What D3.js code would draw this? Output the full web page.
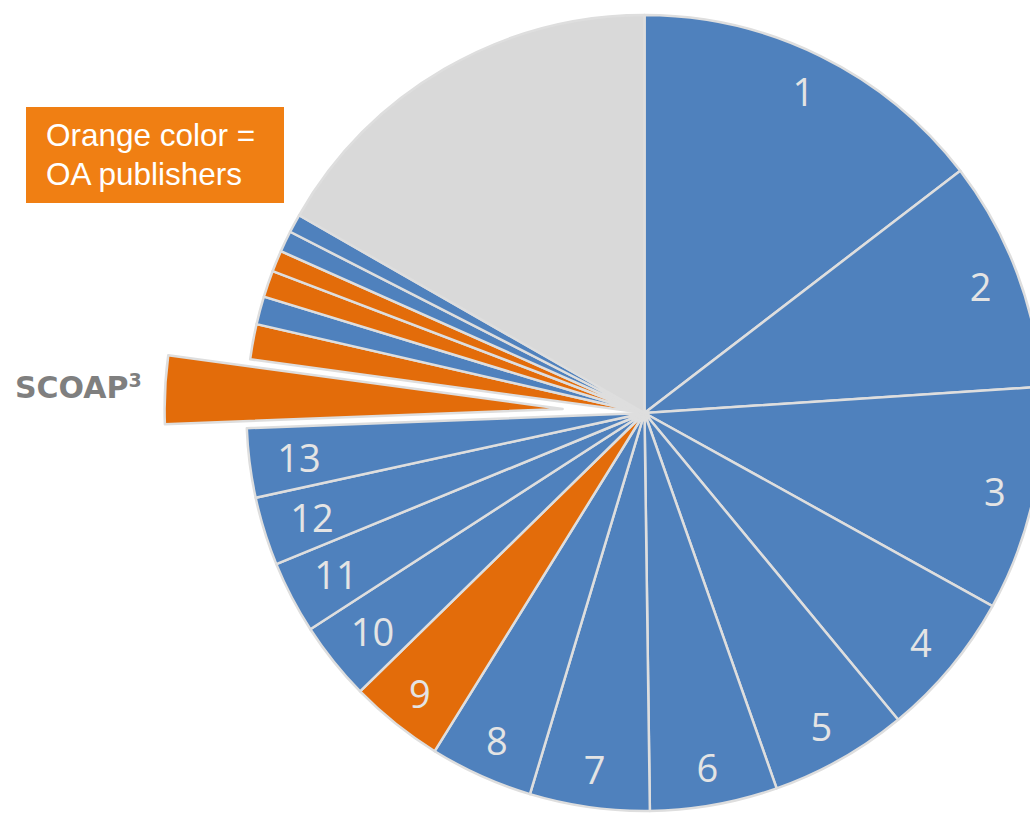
<!DOCTYPE html>
<html>
<head>
<meta charset="utf-8">
<script src="https://cdn.jsdelivr.net/npm/d3@7"></script>
<style>
    body{margin:0;background:#ffffff;}
    svg{display:block;}
</style>
</head>
<body>
<div id="chart"></div>
<script>

// slice labels, clockwise from 12 o'clock (empty = no label)
let sliceLabels = ["1","2","3","4","5","6","7","8","9","10","11","12","13","SCOAP3","","","","","","",""];

// share of articles per publisher, in %
let shares = [14.58, 9.36, 9.11, 5.94, 5.61, 5.17, 4.86, 4.19, 3.83, 3.19, 2.94, 2.78, 2.81, 2.76,
              1.43, 1.14, 1.08, 0.86, 0.86, 0.75, 16.72];

// pub = other publisher, oa = OA publisher, rest = all remaining
let groups = ["pub","pub","pub","pub","pub","pub","pub","pub","oa","pub","pub","pub","pub","oa",
              "oa","pub","oa","oa","pub","pub","rest"];

let noteLines = ["Orange color =","OA publishers"];

function makePie(divid,{width = 1030, height = 813, cx = 644.5, cy = 413, radius = 398}){

    let svg = d3.select(divid).append("svg")
                .attr("width",width)
                .attr("height",height)

    let data = shares.map((v,i) => ({label:sliceLabels[i], value:v, group:groups[i]}));

    let colorScale = d3.scaleOrdinal()
                    .domain(["pub","oa","rest"])
                    .range(["#4f81bd","#e36c0a","#d9d9d9"]);

    let pie = d3.pie()
                .sort(null)
                .value(d => d.value);

    let arcs = pie(data);

    let arcfunc = d3.arc()
                .innerRadius(0)
                .outerRadius(radius);

    let g = svg.append("g")
            .attr("transform","translate(" + cx + "," + cy + ")");

    //exploded slice for SCOAP3
    const explode = 82;

    g.selectAll("path")
        .data(arcs)
        .join("path")
        .attr("d",arcfunc)
        .attr("fill",d => colorScale(d.data.group))
        .attr("stroke","#dedede")
        .attr("stroke-width",2.5)
        .attr("stroke-linejoin","round")
        .attr("transform",function(d){
            if(d.data.label == "SCOAP3"){
                let a = (d.startAngle + d.endAngle)/2;
                return "translate(" + (Math.sin(a)*explode) + "," + (-Math.cos(a)*explode) + ")";
            }else{
                return null;
            }
        })

    //numbers inside end of the slices
    let numbered = arcs.filter(d => /^\d+$/.test(d.data.label));

    g.selectAll("text.num")
        .data(numbered)
        .join("text")
        .attr("class","num")
        .text(d => d.data.label)
        .attr("font-family","'Open Sans', sans-serif")
        .attr("font-size",38)
        .attr("fill","#e4e4e4")
        .attr("text-anchor","middle")
        .attr("dominant-baseline","central")
        .each(function(d){
            let w = this.getComputedTextLength();
            let a = (d.startAngle + d.endAngle)/2;
            let r = radius - 28 - w/2;
            d3.select(this)
                .attr("x",Math.sin(a)*r)
                .attr("y",-Math.cos(a)*r);
        })

    //SCOAP3 label
    let scoap = svg.append("text")
                .attr("x",15)
                .attr("y",398)
                .attr("font-family","'DejaVu Sans', sans-serif")
                .attr("font-weight","bold")
                .attr("font-size",30)
                .attr("fill","#7f7f7f")
    scoap.append("tspan").text("SCOAP");
    scoap.append("tspan").text("3")
            .attr("font-size",19)
            .attr("dy",-11);

    //note box
    svg.append("rect")
        .attr("x",26)
        .attr("y",107)
        .attr("width",258)
        .attr("height",96)
        .attr("fill","#f07f13")

    svg.selectAll("text.note")
        .data(noteLines)
        .join("text")
        .attr("class","note")
        .text(d => d)
        .attr("x",46)
        .attr("y",(d,i) => 146 + i*39)
        .attr("font-family","'Liberation Sans', Arial, sans-serif")
        .attr("font-size",31.5)
        .attr("fill","#ffffff")
}

makePie("#chart",{});

</script>
</body>
</html>
